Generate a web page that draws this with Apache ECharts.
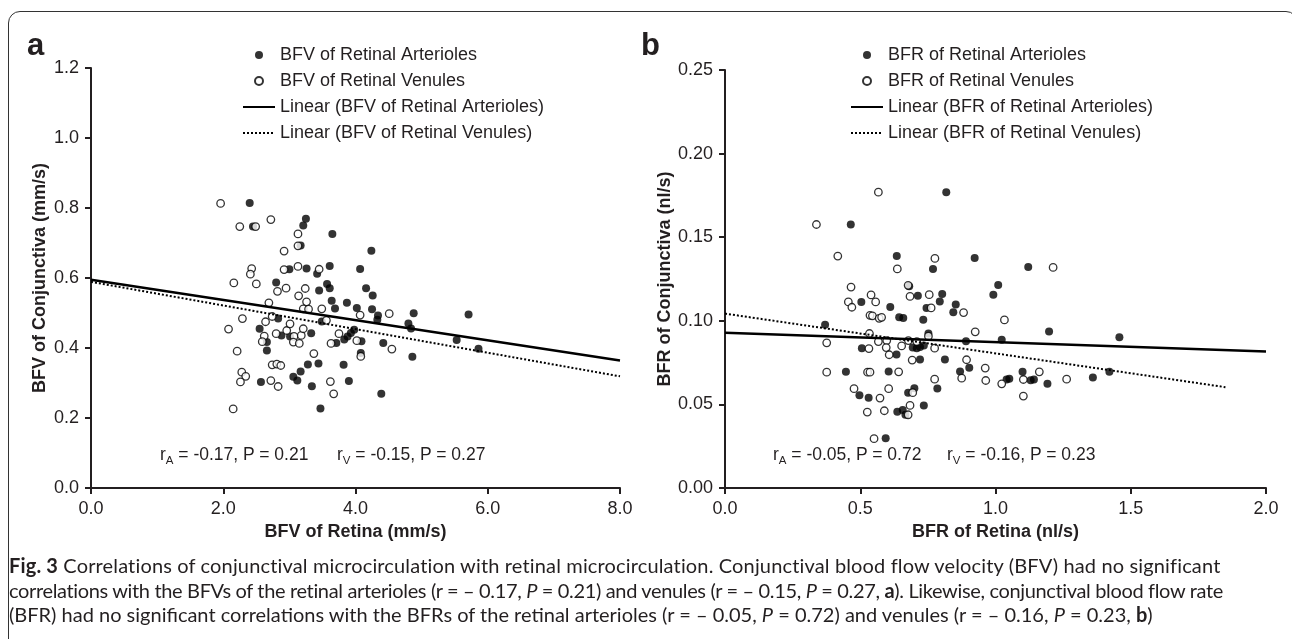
<!DOCTYPE html>
<html>
<head>
<meta charset="utf-8">
<script src="https://cdn.jsdelivr.net/npm/echarts@6/dist/echarts.min.js"></script>
<style>
  body { margin: 0; background: #fff; width: 1292px; height: 639px; overflow: hidden; position: relative;
         font-family: 'Liberation Sans', Arial, sans-serif; color: #231f20; }
  #frame { position: absolute; left: 8px; top: 11px; width: 1290px; height: 720px; border: 1.5px solid #333;
           border-radius: 12px; box-sizing: border-box; }
  #chart { position: absolute; left: 0; top: 0; width: 1292px; height: 639px; }
  .tag { position: absolute; font-weight: bold; font-size: 31px; line-height: 30px; }
  .stat { position: absolute; font-size: 17.5px; line-height: 20px; white-space: nowrap; }
  .stat sub { font-size: 11.5px; line-height: 0; vertical-align: -4px; }
  #caption { position: absolute; left: 9px; top: 553px; font-family: Lato, 'Open Sans', sans-serif; font-size: 20px;
             line-height: 24.5px; white-space: nowrap; color: #231f20; }
  #caption div { white-space: nowrap; }
</style>
</head>
<body>
<div id="frame"></div>
<div id="chart"></div>
<div class="tag" style="left:27px;top:30px">a</div>
<div class="tag" style="left:641px;top:30px">b</div>
<div class="stat" style="left:160px;top:444px">r<sub>A</sub> = -0.17, P = 0.21</div>
<div class="stat" style="left:337px;top:444px">r<sub>V</sub> = -0.15, P = 0.27</div>
<div class="stat" style="left:773px;top:444px">r<sub>A</sub> = -0.05, P = 0.72</div>
<div class="stat" style="left:947px;top:444px">r<sub>V</sub> = -0.16, P = 0.23</div>
<div id="caption">
<div style="letter-spacing:0.15px"><b>Fig. 3</b> Correlations of conjunctival microcirculation with retinal microcirculation. Conjunctival blood flow velocity (BFV) had no significant</div>
<div style="letter-spacing:-0.35px">correlations with the BFVs of the retinal arterioles (r = – 0.17, <i>P</i> = 0.21) and venules (r = – 0.15, <i>P</i> = 0.27, <b>a</b>). Likewise, conjunctival blood flow rate</div>
<div>(BFR) had no significant correlations with the BFRs of the retinal arterioles (r = – 0.05, <i>P</i> = 0.72) and venules (r = – 0.16, <i>P</i> = 0.23, <b>b</b>)</div>
</div>
<script>
// panel a: BFV (mm/s)
const aArtX = [2.40, 2.45, 3.25, 3.21, 3.65, 3.17, 3.00, 3.26, 3.42, 3.61, 2.80, 3.45, 3.57, 3.61, 3.64, 3.69, 2.83, 3.49, 2.55, 2.66,
  2.66, 2.88, 3.01, 3.33, 3.71, 2.57, 3.06, 3.12, 3.17, 3.28, 3.44, 3.34, 3.47, 4.24, 4.07, 4.16, 4.26, 3.87, 4.02, 4.25,
  4.34, 4.33, 4.88, 4.80, 4.84, 5.71, 5.53, 5.86, 3.98, 3.93, 3.88, 3.83, 4.09, 4.08, 4.42, 4.86, 3.82, 3.90, 4.39];
const aArtY = [0.814, 0.747, 0.769, 0.750, 0.726, 0.693, 0.625, 0.627, 0.612, 0.634, 0.587, 0.564, 0.583, 0.571, 0.535, 0.513, 0.484, 0.476, 0.455, 0.417,
  0.393, 0.436, 0.433, 0.442, 0.414, 0.303, 0.318, 0.307, 0.333, 0.353, 0.356, 0.291, 0.227, 0.678, 0.626, 0.571, 0.550, 0.529, 0.514, 0.511,
  0.493, 0.481, 0.499, 0.470, 0.456, 0.496, 0.423, 0.398, 0.452, 0.443, 0.433, 0.424, 0.419, 0.386, 0.414, 0.375, 0.352, 0.306, 0.269];
const aVenX = [1.96, 2.25, 2.49, 2.72, 3.13, 3.13, 2.92, 2.43, 2.41, 2.16, 2.50, 2.92, 3.13, 3.45, 2.82, 2.95, 3.24, 3.14, 3.26, 3.21,
  3.29, 3.49, 2.69, 2.74, 2.29, 2.08, 2.64, 2.62, 2.59, 2.80, 2.96, 3.01, 3.07, 3.06, 3.15, 3.18, 3.21, 3.56, 3.63, 3.75,
  2.21, 2.28, 2.34, 2.26, 2.72, 2.83, 2.74, 2.81, 2.87, 3.37, 3.62, 3.67, 2.15, 4.07, 4.51, 4.02, 4.08, 4.55];
const aVenY = [0.813, 0.747, 0.747, 0.767, 0.726, 0.692, 0.677, 0.627, 0.611, 0.586, 0.583, 0.624, 0.633, 0.625, 0.562, 0.571, 0.570, 0.549, 0.532, 0.512,
  0.511, 0.512, 0.529, 0.490, 0.484, 0.454, 0.475, 0.434, 0.418, 0.441, 0.450, 0.469, 0.433, 0.417, 0.413, 0.436, 0.455, 0.479, 0.413, 0.441,
  0.391, 0.331, 0.319, 0.303, 0.307, 0.290, 0.352, 0.354, 0.350, 0.384, 0.304, 0.269, 0.226, 0.494, 0.498, 0.421, 0.376, 0.397];
const aFitArtX = [0, 8], aFitArtY = [0.595, 0.364];
const aFitVenX = [0, 8], aFitVenY = [0.589, 0.319];

// panel b: BFR (nl/s)
const bArtX = [0.465, 0.818, 0.635, 0.769, 0.923, 0.681, 0.713, 0.803, 0.794, 0.853, 0.844, 0.504, 0.611, 0.644, 0.659, 0.733, 0.745, 0.370, 0.752, 0.891,
  0.506, 0.634, 0.694, 0.709, 0.721, 0.735, 0.721, 0.813, 0.447, 0.605, 0.869, 0.903, 0.497, 0.531, 0.677, 0.700, 0.785, 0.735, 0.637, 0.657,
  0.667, 0.594, 1.121, 1.010, 0.992, 1.198, 1.458, 1.023, 1.100, 1.041, 1.051, 1.130, 1.142, 1.192, 1.360, 1.421];
const bArtY = [0.1576, 0.1769, 0.1387, 0.1310, 0.1375, 0.1206, 0.1150, 0.1160, 0.1116, 0.1097, 0.1051, 0.1113, 0.1083, 0.1021, 0.1017, 0.1007, 0.1077, 0.0977, 0.0924, 0.0878,
  0.0836, 0.0798, 0.0840, 0.0836, 0.0844, 0.0852, 0.0768, 0.0768, 0.0695, 0.0697, 0.0697, 0.0719, 0.0554, 0.0540, 0.0570, 0.0597, 0.0595, 0.0494, 0.0456, 0.0466,
  0.0438, 0.0297, 0.1322, 0.1214, 0.1156, 0.0936, 0.0902, 0.0886, 0.0695, 0.0649, 0.0653, 0.0645, 0.0649, 0.0623, 0.0661, 0.0695];
const bVenX = [0.338, 0.567, 0.417, 0.466, 0.456, 0.469, 0.540, 0.557, 0.536, 0.545, 0.570, 0.579, 0.637, 0.677, 0.684, 0.755, 0.776, 0.762, 0.882, 0.925,
  0.376, 0.376, 0.534, 0.567, 0.598, 0.532, 0.596, 0.607, 0.653, 0.678, 0.709, 0.692, 0.752, 0.775, 0.527, 0.536, 0.642, 0.477, 0.573, 0.605,
  0.526, 0.589, 0.684, 0.677, 0.694, 0.775, 0.893, 0.875, 0.551, 1.213, 1.033, 0.962, 0.964, 1.023, 1.103, 1.162, 1.263, 1.103];
const bVenY = [0.1576, 0.1769, 0.1387, 0.1202, 0.1113, 0.1081, 0.1155, 0.1113, 0.1033, 0.1030, 0.1015, 0.1021, 0.1310, 0.1212, 0.1146, 0.1156, 0.1373, 0.1077, 0.1049, 0.0934,
  0.0868, 0.0693, 0.0924, 0.0876, 0.0882, 0.0834, 0.0840, 0.0797, 0.0850, 0.0882, 0.0876, 0.0765, 0.0908, 0.0836, 0.0693, 0.0693, 0.0695, 0.0594, 0.0538, 0.0594,
  0.0454, 0.0462, 0.0494, 0.0438, 0.0570, 0.0651, 0.0767, 0.0657, 0.0295, 0.1319, 0.1005, 0.0717, 0.0643, 0.0623, 0.0649, 0.0695, 0.0651, 0.0550];
const bFitArtX = [0, 2.0], bFitArtY = [0.0928, 0.0817];
const bFitVenX = [0, 1.85], bFitVenY = [0.1043, 0.0603];

const namesA = ['BFV of Retinal Arterioles', 'BFV of Retinal Venules', 'Linear (BFV of Retinal Arterioles)', 'Linear (BFV of Retinal Venules)'];
const namesB = ['BFR of Retinal Arterioles', 'BFR of Retinal Venules', 'Linear (BFR of Retinal Arterioles)', 'Linear (BFR of Retinal Venules)'];

const INK = '#231f20';
const FONT = "'Liberation Sans', Arial, sans-serif";
const pts = (xs, ys) => xs.map((x, i) => [x, ys[i]]);
const NONE = 'rgba(0,0,0,0)';

function axis(min, max, step, digits, extra) {
  return Object.assign({
    type: 'value', min, max, interval: step, splitLine: { show: false },
    axisLine: { show: true, onZero: false, lineStyle: { color: INK, width: 2 } },
    axisTick: { show: true, length: 6, lineStyle: { color: INK, width: 2 } },
    axisLabel: { color: INK, fontSize: 18, fontFamily: FONT, margin: 12, showMinLabel: true, showMaxLabel: true,
                 formatter: v => v.toFixed(digits) },
    nameLocation: 'middle',
    nameTextStyle: { color: INK, fontSize: 18, fontWeight: 'bold', fontFamily: FONT }
  }, extra);
}

function panel(idx, names, artX, artY, venX, venY, fArtX, fArtY, fVenX, fVenY) {
  const base = { xAxisIndex: idx, yAxisIndex: idx };
  return [
    Object.assign({ type: 'scatter', name: names[0], data: pts(artX, artY), symbolSize: 8,
      itemStyle: { color: '#000' }, z: 2 }, base),
    Object.assign({ type: 'scatter', name: names[1], data: pts(venX, venY), symbolSize: 7.5,
      itemStyle: { color: '#fff', borderColor: '#000', borderWidth: 1.3 }, z: 3 }, base),
    Object.assign({ type: 'line', name: names[2], data: pts(fArtX, fArtY), symbol: 'none',
      itemStyle: { color: NONE, borderColor: NONE, borderWidth: 0 },
      lineStyle: { color: '#000', width: 2.5 }, z: 4 }, base),
    Object.assign({ type: 'line', name: names[3], data: pts(fVenX, fVenY), symbol: 'none',
      itemStyle: { color: NONE, borderColor: NONE, borderWidth: 0 },
      lineStyle: { color: '#000', width: 2, type: [2, 2] }, z: 4 }, base)
  ];
}

const legendBase = {
  orient: 'vertical', top: 41, itemWidth: 32, itemHeight: 8, itemGap: 8,
  textStyle: { color: INK, fontSize: 18, fontFamily: FONT }, selectedMode: false
};

const chart = echarts.init(document.getElementById('chart'));
chart.setOption({
  animation: false,
  grid: [
    { left: 91, top: 68, width: 529, height: 420, containLabel: false, outerBoundsMode: 'none' },
    { left: 725, top: 70, width: 541, height: 418, containLabel: false, outerBoundsMode: 'none' }
  ],
  xAxis: [
    axis(0, 8, 2, 1, { gridIndex: 0, name: 'BFV of Retina (mm/s)', nameGap: 34 }),
    axis(0, 2, 0.5, 1, { gridIndex: 1, name: 'BFR of Retina (nl/s)', nameGap: 34 })
  ],
  yAxis: [
    axis(0, 1.2, 0.2, 1, { gridIndex: 0, name: 'BFV of Conjunctiva (mm/s)', nameGap: 42 }),
    axis(0, 0.25, 0.05, 2, { gridIndex: 1, name: 'BFR of Conjunctiva (nl/s)', nameGap: 50 })
  ],
  legend: [
    Object.assign({ data: namesA, left: 237 }, legendBase),
    Object.assign({ data: namesB, left: 845 }, legendBase)
  ],
  series: [
    ...panel(0, namesA, aArtX, aArtY, aVenX, aVenY, aFitArtX, aFitArtY, aFitVenX, aFitVenY),
    ...panel(1, namesB, bArtX, bArtY, bVenX, bVenY, bFitArtX, bFitArtY, bFitVenX, bFitVenY)
  ]
});
</script>
</body>
</html>
